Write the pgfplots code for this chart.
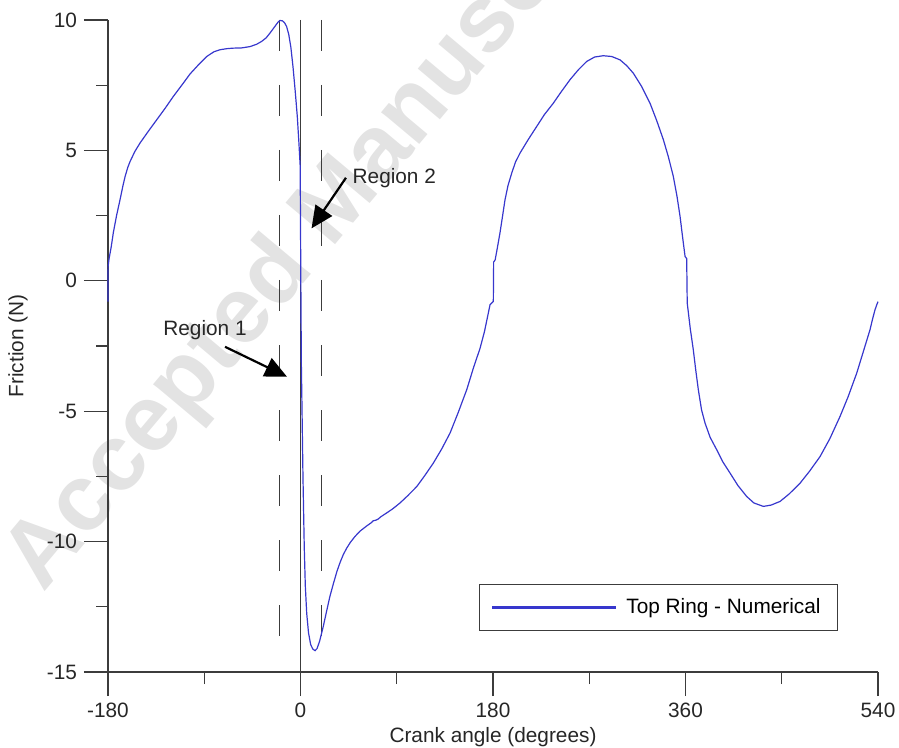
\documentclass[border=0pt]{standalone}
\usepackage{fontspec}
\setmainfont{Liberation Sans}
\usepackage{pgfplots}
\pgfplotsset{compat=1.18}
\usetikzlibrary{arrows.meta}
\definecolor{curveblue}{RGB}{55,55,205}
\definecolor{axgray}{RGB}{60,60,60}

\pgfplotstableread{
x y
-180.0 -0.80
-179.9 0.55
-179.0 0.85
-177.0 1.30
-175.0 1.85
-172.0 2.50
-168.8 3.10
-166.0 3.65
-164.0 4.00
-161.5 4.35
-159.4 4.57
-155.0 4.95
-150.1 5.28
-142.0 5.75
-134.5 6.17
-126.5 6.62
-118.9 7.07
-111.0 7.50
-103.3 7.93
-95.0 8.30
-87.7 8.60
-81.0 8.78
-75.1 8.86
-69.0 8.90
-63.1 8.92
-55.0 8.93
-47.2 8.98
-41.0 9.07
-36.3 9.18
-32.0 9.32
-28.5 9.50
-24.0 9.75
-21.0 9.92
-19.2 9.98
-17.0 9.97
-15.0 9.90
-13.0 9.75
-11.0 9.45
-9.0 8.95
-7.0 8.20
-5.0 7.30
-3.0 6.30
-1.5 5.30
-0.3 4.40
0.3 0.00
0.8 -3.20
1.3 -4.60
2.3 -7.50
3.5 -10.20
4.5 -11.70
5.8 -12.75
7.5 -13.50
9.5 -13.95
11.5 -14.12
13.6 -14.18
15.5 -14.10
18.0 -13.80
21.3 -13.25
24.5 -12.65
27.5 -12.10
30.7 -11.62
34.0 -11.15
37.0 -10.80
40.0 -10.50
43.2 -10.25
46.6 -10.03
51.0 -9.80
55.6 -9.60
61.9 -9.40
66.0 -9.28
68.1 -9.20
70.5 -9.18
72.8 -9.13
75.0 -9.05
80.6 -8.90
86.0 -8.75
93.0 -8.52
100.0 -8.25
108.7 -7.89
116.0 -7.48
124.2 -6.99
132.0 -6.45
139.8 -5.84
147.0 -5.10
155.4 -4.18
162.0 -3.30
167.8 -2.60
172.0 -1.95
175.3 -1.30
177.2 -0.92
180.3 -0.79
180.6 0.72
182.0 0.80
184.0 1.25
186.5 1.83
189.0 2.50
191.2 3.10
194.0 3.65
197.5 4.13
201.0 4.55
205.3 4.90
213.0 5.42
220.9 5.92
228.0 6.37
236.4 6.81
244.0 7.26
252.0 7.71
260.0 8.10
267.6 8.41
275.0 8.58
283.1 8.63
291.0 8.60
298.8 8.47
305.0 8.25
311.2 7.96
319.0 7.45
326.8 6.81
333.0 6.15
339.3 5.41
344.0 4.75
348.6 4.00
352.0 3.25
354.9 2.47
357.5 1.60
359.6 0.93
361.1 0.85
361.6 -0.85
364.5 -1.85
367.3 -2.65
369.5 -3.40
372.0 -4.18
375.0 -4.95
378.3 -5.46
383.0 -6.00
389.2 -6.48
395.0 -6.95
401.6 -7.37
409.0 -7.85
417.2 -8.27
424.0 -8.52
432.8 -8.65
440.0 -8.60
448.4 -8.46
457.0 -8.17
467.1 -7.76
476.0 -7.30
485.8 -6.74
495.0 -6.05
504.5 -5.20
512.0 -4.45
520.1 -3.54
526.0 -2.75
532.5 -1.88
535.0 -1.45
537.2 -1.11
539.0 -0.90
540.0 -0.80
}\friction

\begin{document}
\begin{tikzpicture}
\begin{axis}[
  name=ax,
  set layers,
  scale only axis,
  width=385pt, height=326pt,
  xmin=-180, xmax=540, ymin=-15, ymax=10,
  axis lines*=left,
  axis line style={-, axgray, line width=0.65pt},
  tick style={axgray, line width=0.65pt},
  tick align=outside,
  major tick length=12pt,
  minor tick length=6pt,
  xtick={-180,0,180,360,540},
  minor xtick={-90,90,270,450},
  ytick={-15,-10,-5,0,5,10},
  minor ytick={-12.5,-7.5,-2.5,2.5,7.5},
  /pgf/number format/assume math mode=true,
  tick label style={font=\fontsize{10.4}{12}\selectfont, text=black!85},
  xlabel={Crank angle (degrees)},
  ylabel={Friction (N)},
  label style={font=\fontsize{10.4}{12}\selectfont, text=black!85},
  xlabel style={at={(axis description cs:0.5,-0.1)}, anchor=center},
  ylabel style={at={(axis description cs:-0.117,0.5)}, anchor=center},
  clip=false,
  legend style={at={(rel axis cs:0.948,0.0629)}, anchor=south east,
    draw=axgray, inner xsep=6.5pt, inner ysep=5pt,
    font=\fontsize{10.4}{12}\selectfont, text=black},
  legend image code/.code={\fill[fill=curveblue] (0pt,-0.25pt) rectangle (61.5pt,0.25pt); \path (64.5pt,0pt);},
]
\begin{pgfonlayer}{axis background}
\node[rotate=50, anchor=base west, text=black!11, font=\fontsize{47}{50}\selectfont\bfseries, inner sep=0pt]
  at (axis cs:-241,-12.0) {Accepted Manuscript};
\end{pgfonlayer}
\addplot[forget plot, axgray, line width=0.55pt] coordinates {(0,10) (0,-15)};
\addplot[forget plot, axgray, line width=0.55pt, dash pattern=on 15.5pt off 17pt] coordinates {(-20,10) (-20,-13.73)};
\addplot[forget plot, axgray, line width=0.55pt, dash pattern=on 15.5pt off 17pt] coordinates {(20,10) (20,-13.73)};
\addplot[curveblue, line width=0.6pt] table[x=x, y=y] {\friction};
\addlegendentry{Top Ring - Numerical}
\draw[-{Triangle[length=11pt,width=10pt]}, line width=1.1pt, black]
  (axis cs:-70.6,-2.53) -- (axis cs:-12.6,-3.68);
\draw[-{Triangle[length=11pt,width=10pt]}, line width=1.1pt, black]
  (axis cs:42.5,3.95) -- (axis cs:10.3,2.01);
\node[anchor=west, inner sep=0pt, font=\fontsize{10.4}{12}\selectfont, text=black!85] at (axis cs:-128.6,-1.88) {Region 1};
\node[anchor=west, inner sep=0pt, font=\fontsize{10.4}{12}\selectfont, text=black!85] at (axis cs:48.4,3.95) {Region 2};
\end{axis}
\pgfresetboundingbox
\path ([xshift=-54pt,yshift=-37.5pt]ax.south west) rectangle ([xshift=10.5pt,yshift=10pt]ax.north east);
\end{tikzpicture}
\end{document}
